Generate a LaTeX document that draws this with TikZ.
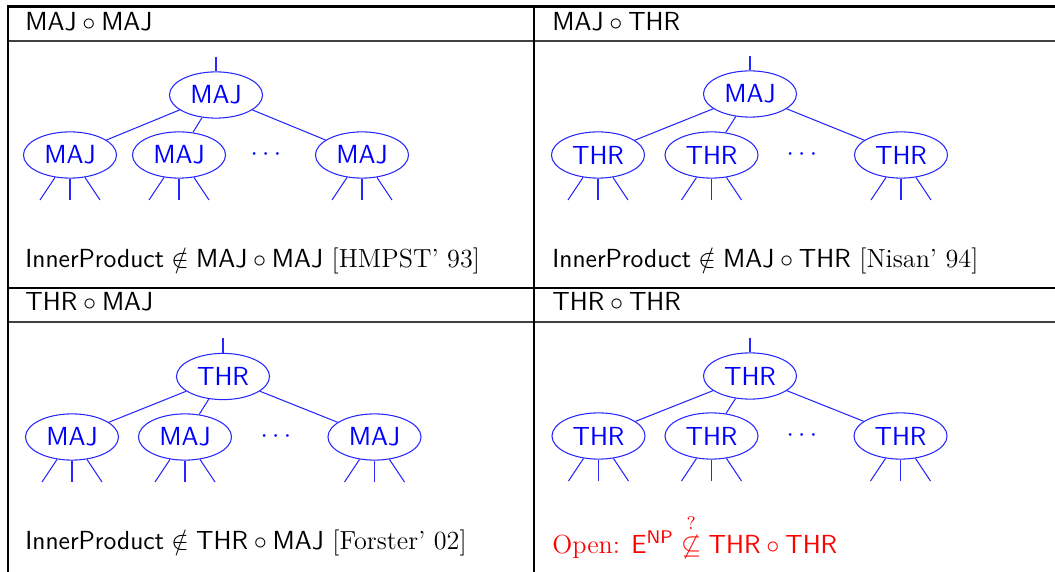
\RequirePackage{fix-cm}
\documentclass[tikz,border=0pt]{standalone}
\usepackage{amsmath}
\usepackage{amssymb}
\usepackage{xcolor}
\usepackage{tikz}
\usetikzlibrary{shapes.geometric}
\usetikzlibrary{positioning}
\usetikzlibrary{calc}
\newcommand\cellfont{\fontsize{12.45}{15}\selectfont}
\tikzset{
  gate/.style={
    ellipse, draw=blue!85, text=blue, line width=0.5pt, inner sep=0pt,
    minimum width=44.3pt, minimum height=22pt, font=\cellfont\sffamily,
  },
  wire/.style={draw=blue!85, line width=0.5pt},
  cell text/.style={anchor=base west, inner sep=0pt},
  thick rule/.style={line width=1.1pt},
  thin rule/.style={line width=0.6pt, black!75},
}

\begin{document}
\begin{tikzpicture}[x=0.476pt, y=-0.476pt, font=\cellfont]
  \useasboundingbox (0,0) rectangle (1055,572);

  % Table rules
  \draw[line width=1.4pt] (7,6.5) -- (1055,6.5);
  \draw[thin rule] (7,41) -- (1055,41);
  \draw[thick rule] (7,288) -- (1055,288);
  \draw[thin rule] (7,322) -- (1055,322);
  \draw[thick rule] (8,5.5) -- (8,572);
  \draw[thick rule] (534,5.5) -- (534,572);

  % Cell headers
  \node[cell text] (headMM) at (25,31) {$\mathsf{MAJ}\circ\mathsf{MAJ}$};
  \node[cell text] (headMT) at (552,31) {$\mathsf{MAJ}\circ\mathsf{THR}$};
  \node[cell text] (headTM) at (25,311) {$\mathsf{THR}\circ\mathsf{MAJ}$};
  \node[cell text] (headTT) at (552,311) {$\mathsf{THR}\circ\mathsf{THR}$};

  % Circuits
  \foreach \t/\rx/\ry/\rl/\cl/\ka/\kb/\kc/\dx/\ky in {
      mm/216/95/MAJ/MAJ/70/179/362/268/155,
      mt/750/94/MAJ/THR/598/711.5/901/804/155,
      tm/223/376.5/THR/MAJ/72/185/374.5/278/437,
      tt/750/376/THR/THR/598.5/711.5/900.5/804/436}{
    % Define nodes
    \node[gate] (\t-root) at (\rx,\ry) {\rl};
    \coordinate (\t-out) at (\rx,\ry-38);
    \node[gate] (\t-k1) at (\ka,\ky) {\cl};
    \node[gate] (\t-k2) at (\kb,\ky) {\cl};
    \node[gate] (\t-k3) at (\kc,\ky) {\cl};
    \node[text=blue] (\t-dots) at (\dx,\ky) {$\cdots$};
    % Connect nodes
    \draw[wire] (\t-out) -- (\t-root);
    \foreach \k in {k1,k2,k3} {
      \draw[wire] (\t-root) -- (\t-\k);
      \foreach \s [count=\i] in {-30,0,30} {
        \coordinate (\t-\k-in\i) at ($(\t-\k)+(\s,45)$);
        \draw[wire] (\t-\k-in\i) -- (\t-\k);
      }
    }
  }

  % Results
  \node[cell text] (resMM) at (25,268)
    {$\mathsf{InnerProduct}\notin\mathsf{MAJ}\circ\mathsf{MAJ}$ [HMPST' 93]};
  \node[cell text] (resMT) at (552,268)
    {$\mathsf{InnerProduct}\notin\mathsf{MAJ}\circ\mathsf{THR}$ [Nisan' 94]};
  \node[cell text] (resTM) at (25,549)
    {$\mathsf{InnerProduct}\notin\mathsf{THR}\circ\mathsf{MAJ}$ [Forster' 02]};
  \node[cell text, text=red] (resTT) at (552,553)
    {Open: $\mathsf{E}^{\mathsf{NP}}\stackrel{?}{\not\subseteq}\mathsf{THR}\circ\mathsf{THR}$};

\end{tikzpicture}
\end{document}
